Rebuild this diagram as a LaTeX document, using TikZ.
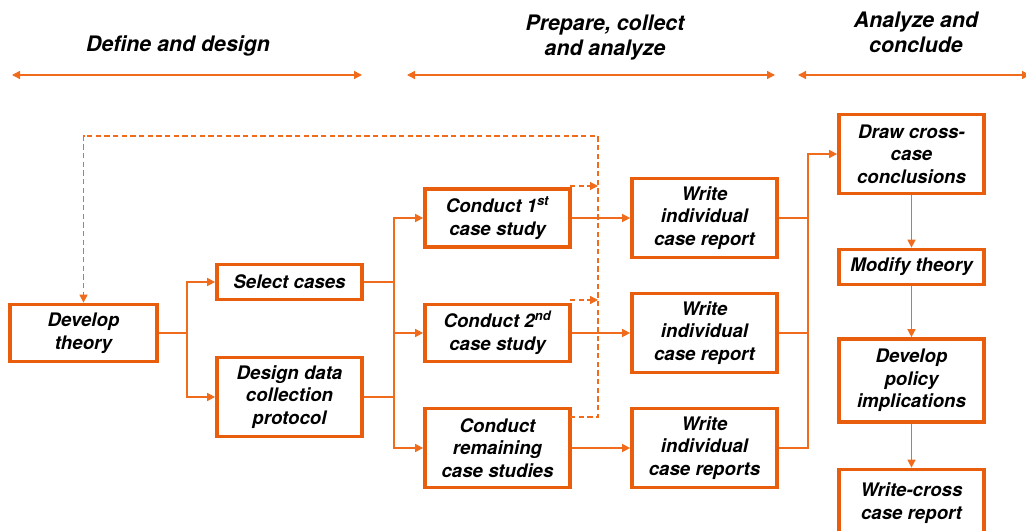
\documentclass[tikz,border=0pt]{standalone}
\usepackage{fontspec}
\setmainfont{TeX Gyre Heros}
\usetikzlibrary{arrows.meta}
\definecolor{boxorange}{RGB}{232,94,12}
\definecolor{lineorange}{RGB}{240,108,28}
\begin{document}
\begin{tikzpicture}[x=0.75pt, y=-0.75pt]

      \tikzset{stepbox/.style={draw=boxorange, line width=2.8pt, fill=white, inner sep=0pt, align=center,
                 minimum width=108.75pt, font=\fontsize{14}{16.9}\selectfont\bfseries\itshape},
               phase/.style={align=center, font=\fontsize{16}{18.8}\selectfont\bfseries\itshape},
               link/.style={lineorange, line width=1.1pt, >={Triangle[length=6pt,width=6pt]}},
               feedback/.style={link, line width=0.9pt, dash pattern=on 4pt off 2.5pt}}
      \useasboundingbox (0,0) rectangle (1026,531);
%% Phases
      	\node[phase] (define) at (178,46) {Define and design};
      	\node[phase] (prepare) at (605,37.5) {Prepare, collect\\and analyze};
      	\node[phase] (analyze) at (916,32.5) {Analyze and\\conclude};
      	\coordinate (p1a) at (12,75);   \coordinate (p1b) at (362,75);
      	\coordinate (p2a) at (407,75);  \coordinate (p2b) at (775,75);
      	\coordinate (p3a) at (798,75);  \coordinate (p3b) at (1030,75);
		\path [<->, link] (p1a) edge (p1b);
		\path [<->, link] (p2a) edge (p2b);
		\path [<->, link] (p3a) edge (p3b);
%% Boxes
      	\node[stepbox, minimum width=110.25pt, minimum height=42.75pt] (theory) at (83.5,333) {Develop\\theory};
      	\node[stepbox, minimum height=26.25pt] (select) at (289.5,282) {Select cases};
      	\node[stepbox, minimum height=59.25pt] (design) at (289.5,397) {Design data\\collection\\protocol};
      	\node[stepbox, minimum height=43.5pt] (first) at (497.5,218) {Conduct 1\textsuperscript{st}\\case study};
      	\node[stepbox, minimum height=42.75pt] (second) at (497.5,333) {Conduct 2\textsuperscript{nd}\\case study};
      	\node[stepbox, minimum height=59.25pt] (remaining) at (497.5,448) {Conduct\\remaining\\case studies};
      	\node[stepbox, minimum height=59.25pt] (report1) at (704.5,218) {Write\\individual\\case report};
      	\node[stepbox, minimum height=59.25pt] (report2) at (704.5,333) {Write\\individual\\case report};
      	\node[stepbox, minimum height=59.25pt] (report3) at (704.5,448) {Write\\individual\\case reports};
      	\node[stepbox, minimum height=59.25pt] (cross) at (911.5,154) {Draw cross-\\case\\conclusions};
      	\node[stepbox, minimum height=26.25pt] (modify) at (911.5,267) {Modify theory};
      	\node[stepbox, minimum height=62.25pt] (policy) at (911.5,380.5) {Develop\\policy\\implications};
      	\node[stepbox, minimum height=50.25pt] (crossreport) at (911.5,503) {Write-cross\\case report};
%Junctions
      	\coordinate (j1) at (187,333);
      	\coordinate (j2) at (394,282);
      	\coordinate (j3) at (394,397);
      	\coordinate (j4) at (808,333);
%Edges
		\draw [link] (theory) -- (j1);
		\draw [link, ->] (j1) |- (select);
		\draw [link, ->] (j1) |- (design);
		\draw [link] (select) -- (j2);
		\draw [link] (design) -- (j3);
		\draw [link] (j2) -- (j3);
		\draw [link, ->] (j2) |- (first);
		\draw [link, ->] (j2) |- (second);
		\draw [link, ->] (j3) |- (remaining);
		\path [link, ->] (first) edge (report1);
		\path [link, ->] (second) edge (report2);
		\path [link, ->] (remaining) edge (report3);
		\draw [link] (report1) -| (j4);
		\draw [link] (report3) -| (j4);
		\draw [link] (report2) -- (j4);
		\draw [link, ->] (j4) |- (cross);
		\path [link, ->] (cross) edge (modify);
		\path [link, ->] (modify) edge (policy);
		\path [link, ->] (policy) edge (crossreport);
%Feedback
      	\coordinate (f1) at (570,186);  \coordinate (f1e) at (598,186);
      	\coordinate (f2) at (570,300);  \coordinate (f2e) at (598,300);
      	\coordinate (f3) at (570,417);  \coordinate (f3e) at (598,417);
      	\coordinate (f4) at (598,136);  \coordinate (f5) at (83.5,136);
		\draw [feedback, ->] (f1) -- (f1e);
		\draw [feedback, ->] (f2) -- (f2e);
		\draw [feedback, ->] (f3) -- (f3e) -- (f4) -- (f5) -- (theory);

	\end{tikzpicture}
\end{document}
